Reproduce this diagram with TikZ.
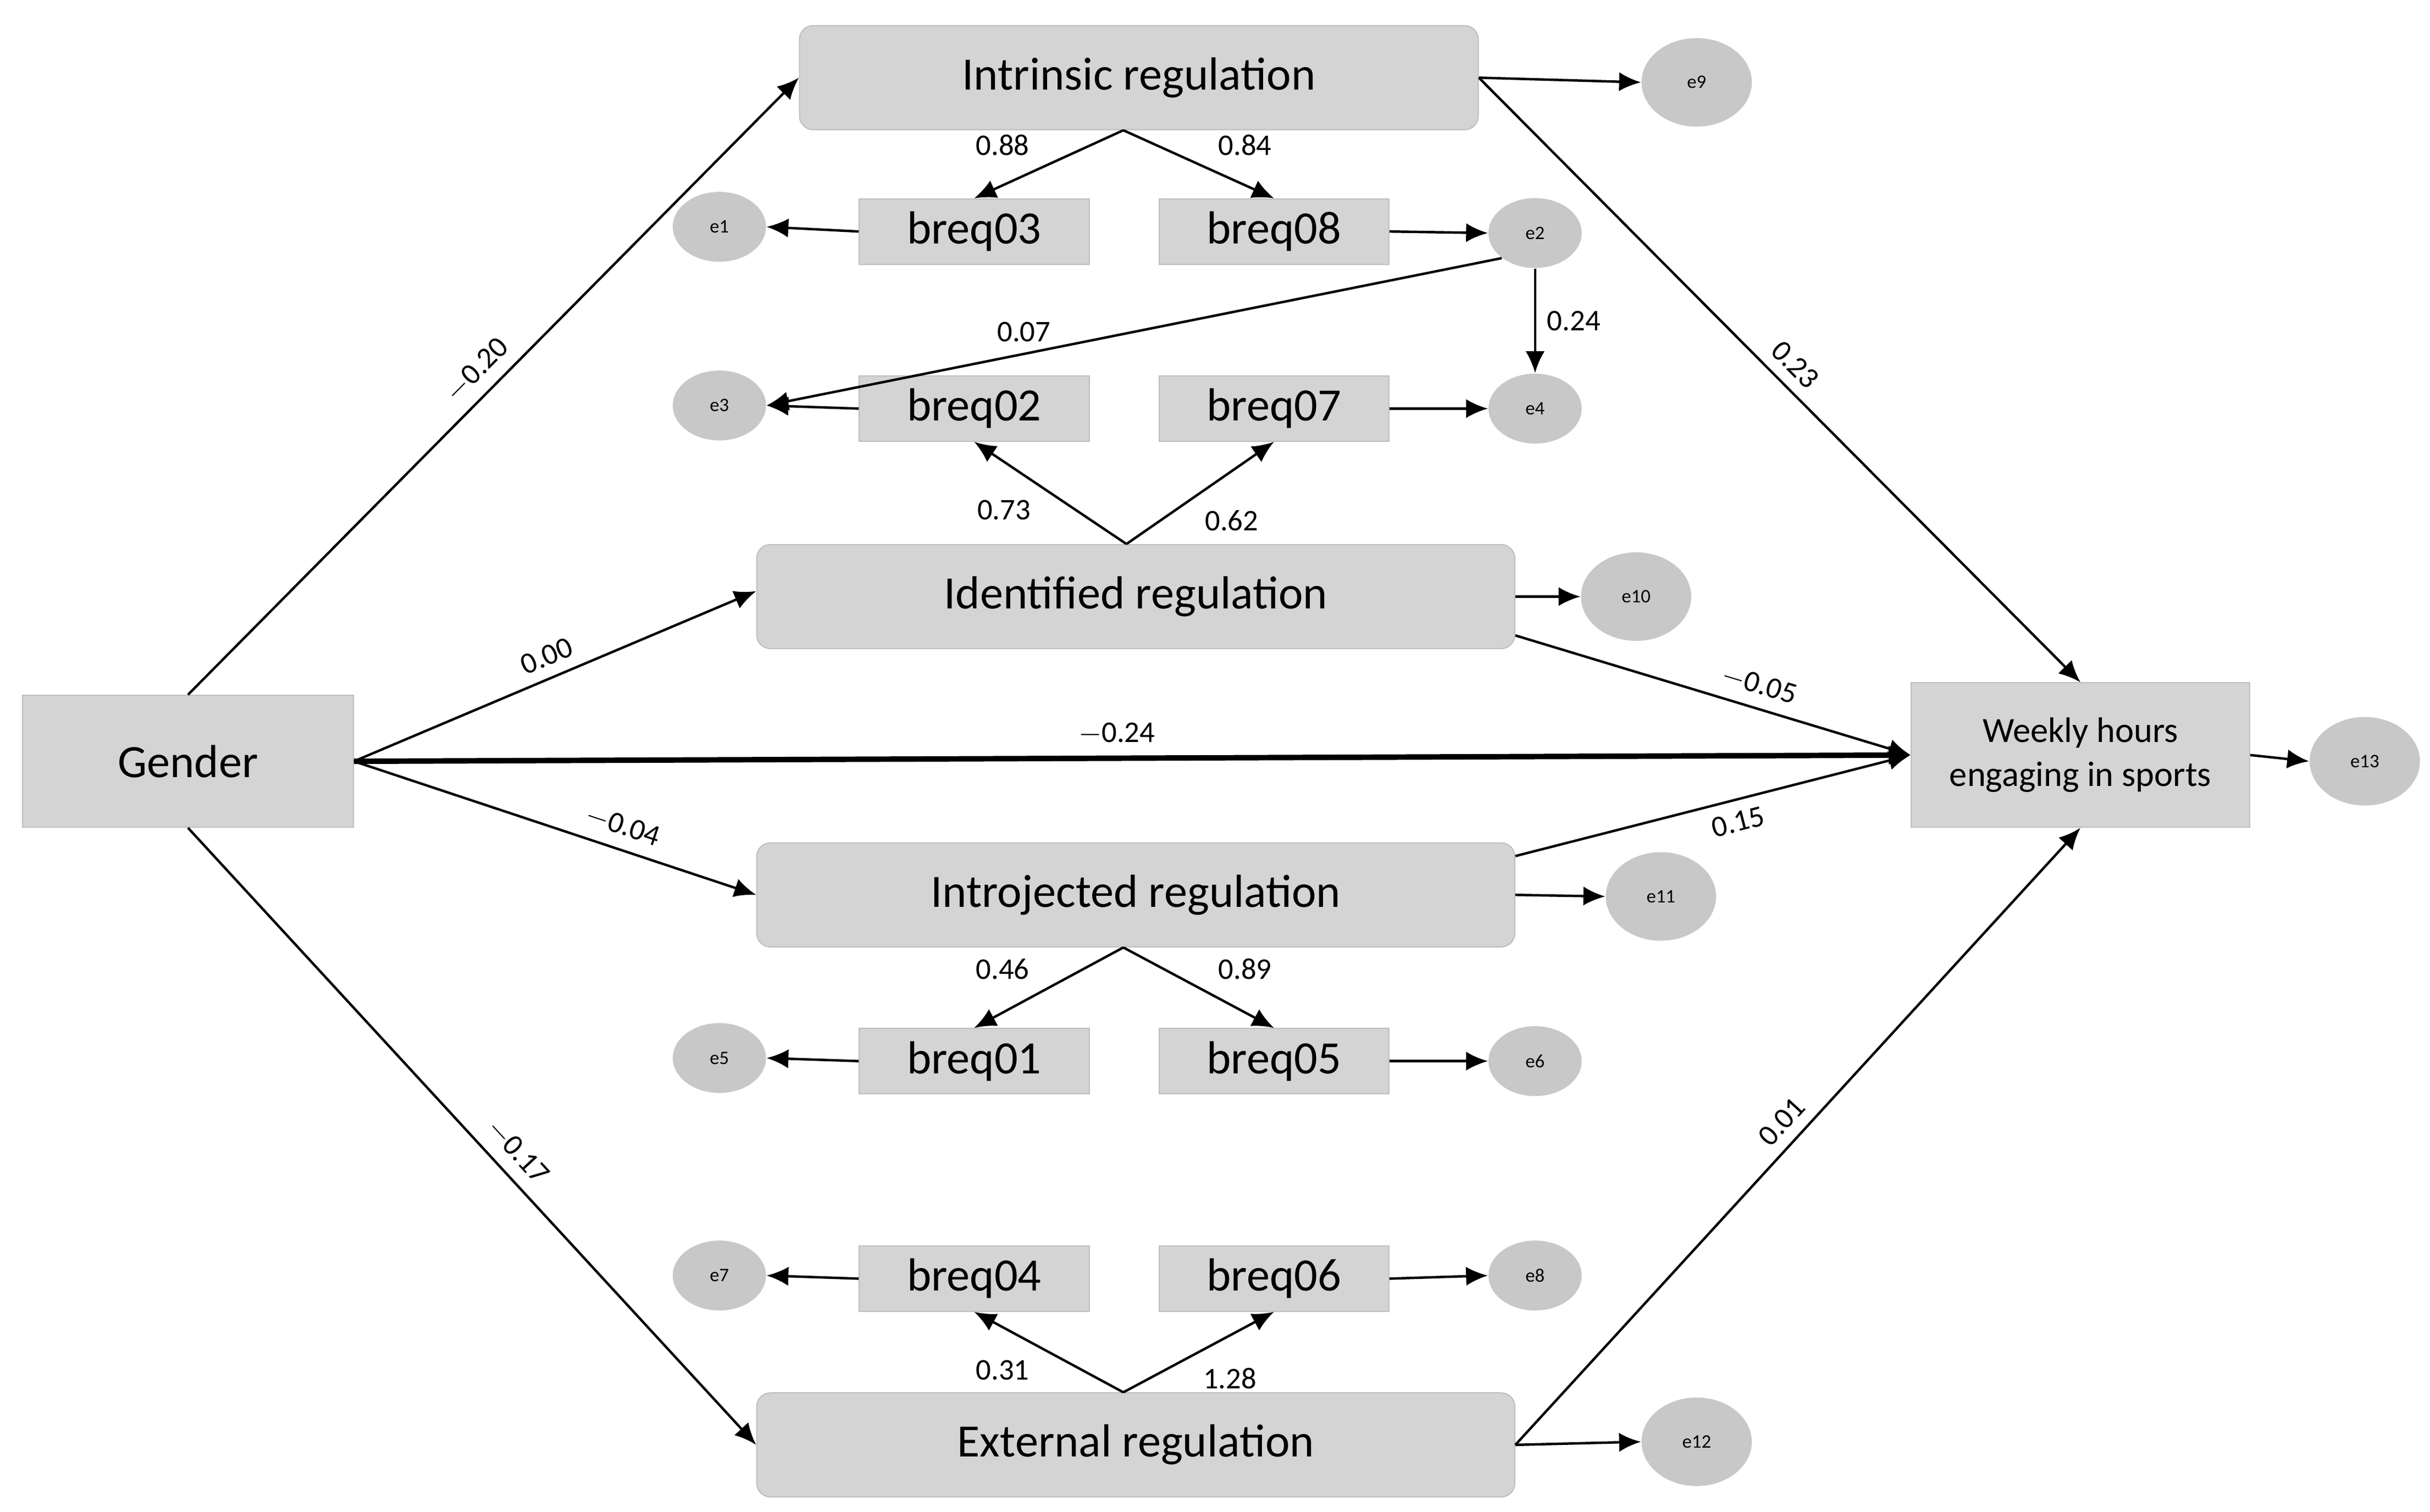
\documentclass[tikz,border=0pt]{standalone}
\usepackage{fontspec}
\setmainfont{Carlito}
\usetikzlibrary{arrows.meta,shapes.geometric}
\definecolor{boxgray}{HTML}{D4D4D4}
\definecolor{boxline}{HTML}{BEBEBE}
\definecolor{errgray}{HTML}{C8C8C8}
\tikzset{
  factor/.style={draw=boxline,fill=boxgray,rounded corners=5pt,minimum width=9.76cm,minimum height=1.34cm,font=\fontsize{17}{19}\selectfont},
  item/.style={draw=boxline,fill=boxgray,minimum width=2.96cm,minimum height=0.84cm,font=\fontsize{17}{19}\selectfont},
  err/.style={ellipse,fill=errgray,minimum width=1.2cm,minimum height=0.9cm,inner sep=0pt,font=\fontsize{7}{8}\selectfont},
  bigerr/.style={err,minimum width=1.42cm,minimum height=1.14cm},
  arr/.style={-{Latex[length=8pt,width=7pt]},line width=0.9pt},
  coef/.style={font=\fontsize{11}{13}\selectfont,inner sep=4pt}
}
\begin{document}
\begin{tikzpicture}[x=0.02cm,y=-0.02cm]
\useasboundingbox (0,0) rectangle (1564,973);
% latent factors
\node[factor,minimum width=8.74cm] (intr) at (733,50) {Intrinsic regulation};
\node[factor] (iden) at (731,384) {Identified regulation};
\node[factor] (intro) at (731,576) {Introjected regulation};
\node[factor] (ext) at (731,930) {External regulation};
\node[draw=boxline,fill=boxgray,minimum width=4.26cm,minimum height=1.7cm,font=\fontsize{17}{19}\selectfont] (gender) at (121,490) {Gender};
\node[draw=boxline,fill=boxgray,minimum width=4.36cm,minimum height=1.86cm,align=center,font=\fontsize{13}{16}\selectfont] (hours) at (1339,486) {Weekly hours\\engaging in sports};
% items
\node[item] (b03) at (627,149) {breq03};
\node[item] (b08) at (820,149) {breq08};
\node[item] (b02) at (627,263) {breq02};
\node[item] (b07) at (820,263) {breq07};
\node[item] (b01) at (627,683) {breq01};
\node[item] (b05) at (820,683) {breq05};
\node[item] (b04) at (627,823) {breq04};
\node[item] (b06) at (820,823) {breq06};
% errors
\node[err] (e1) at (463,146) {e1};
\node[err] (e2) at (988,150) {e2};
\node[err] (e3) at (463,261) {e3};
\node[err] (e4) at (988,263) {e4};
\node[err] (e5) at (463,681) {e5};
\node[err] (e6) at (988,683) {e6};
\node[err] (e7) at (463,821) {e7};
\node[err] (e8) at (988,821) {e8};
\node[bigerr] (e9) at (1092,53) {e9};
\node[bigerr] (e10) at (1053,384) {e10};
\node[bigerr] (e11) at (1069,577) {e11};
\node[bigerr] (e12) at (1092,928) {e12};
\node[bigerr] (e13) at (1522,490) {e13};
% structural paths
\draw[arr] (gender.north) -- node[coef,sloped,above,pos=0.5] {$-$0.20} (intr.west);
\draw[arr] (gender.east) -- node[coef,sloped,above,pos=0.5] {0.00} ([yshift=2pt]iden.west);
\draw[arr,line width=2pt] (gender.east) -- node[coef,above,pos=0.49] {$-$0.24} (hours.west);
\draw[arr] (gender.east) -- node[coef,sloped,above,pos=0.65] {$-$0.04} (intro.west);
\draw[arr] (gender.south) -- node[coef,sloped,above,pos=0.55] {$-$0.17} (ext.west);
\draw[arr] (intr.east) -- node[coef,sloped,above,pos=0.5] {0.23} (hours.north);
\draw[arr] ([yshift=-0.5cm]iden.east) -- node[coef,sloped,above,pos=0.6] {$-$0.05} (hours.west);
\draw[arr] ([yshift=0.5cm]intro.east) -- node[coef,sloped,below,pos=0.55] {0.15} (hours.west);
\draw[arr] (ext.east) -- node[coef,sloped,above,pos=0.5] {0.01} (hours.south);
% loadings
\draw[arr] ([xshift=-0.2cm]intr.south) -- node[coef,pos=0.55,above left] {0.88} (b03.north);
\draw[arr] ([xshift=-0.2cm]intr.south) -- node[coef,pos=0.55,above right] {0.84} (b08.north);
\draw[arr] ([xshift=-0.12cm]iden.north) -- node[coef,pos=0.55,below left] {0.73} (b02.south);
\draw[arr] ([xshift=-0.12cm]iden.north) -- node[coef,pos=0.45,below right] {0.62} (b07.south);
\draw[arr] ([xshift=-0.16cm]intro.south) -- node[coef,pos=0.55,above left] {0.46} (b01.north);
\draw[arr] ([xshift=-0.16cm]intro.south) -- node[coef,pos=0.55,above right] {0.89} (b05.north);
\draw[arr] ([xshift=-0.16cm]ext.north) -- node[coef,pos=0.55,below left] {0.31} (b04.south);
\draw[arr] ([xshift=-0.16cm]ext.north) -- node[coef,pos=0.45,below right] {1.28} (b06.south);
% residuals
\foreach \s/\t in {b03/e1,b02/e3,b01/e5,b04/e7}
  \draw[arr] (\s.west) -- (\t.east);
\foreach \s/\t in {b08/e2,b07/e4,b05/e6,b06/e8}
  \draw[arr] (\s.east) -- (\t.west);
\draw[arr] (intr.east) -- (e9.west);
\draw[arr] (iden.east) -- (e10.west);
\draw[arr] (intro.east) -- (e11.west);
\draw[arr] (ext.east) -- (e12.west);
\draw[arr] (hours.east) -- (e13.west);
% correlated errors
\draw[arr] (e2.south west) -- node[coef,above,pos=0.65] {0.07} (e3.east);
\draw[arr] (e2.south) -- node[coef,right] {0.24} (e4.north);
\end{tikzpicture}
\end{document}
